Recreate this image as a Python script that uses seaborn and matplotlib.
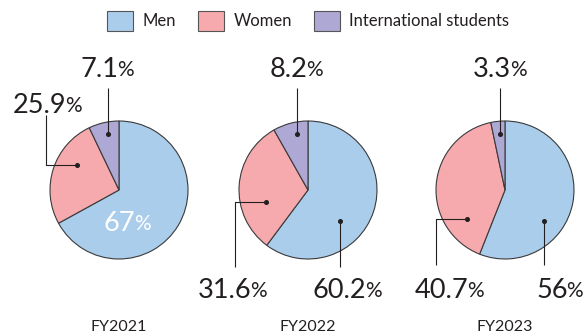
import matplotlib
matplotlib.use("Agg")
import matplotlib.pyplot as plt
from matplotlib.patches import Patch
import seaborn as sns

# data
years = ["FY2021", "FY2022", "FY2023"]
groups = ["Men", "Women", "International students"]
men = [67, 60.2, 56]
women = [25.9, 31.6, 40.7]
intl = [7.1, 8.2, 3.3]

sns.set_theme(style="white")
plt.rcParams["font.family"] = ["Lato", "DejaVu Sans"]

colors = sns.color_palette(["#abcdec", "#f6aaad", "#aea8d4"])
edge = "#3a3a3a"
ink = "#231f20"

W, H = 584, 335
fig = plt.figure(figsize=(W / 100, H / 100), dpi=100)

R = 69          # pie radius in px
cy = 145        # pie centre, px from bottom
centres = [119, 308, 505]
half_w = 95

# callout layout per pie, in radius units: (dot, path corner points, text pos)
layout = [
    [  # FY2021: men, women, intl
        None,
        ((-0.61, 0.36), [(-1.06, 0.36), (-1.06, 1.09)], (-1.03, 1.23)),
        ((-0.16, 0.81), [(-0.16, 1.48)], (-0.16, 1.75)),
    ],
    [
        ((0.46, -0.45), [(0.46, -1.12)], (0.57, -1.45)),
        ((-0.61, -0.17), [(-1.06, -0.17), (-1.06, -1.12)], (-1.09, -1.45)),
        ((-0.16, 0.81), [(-0.16, 1.48)], (-0.16, 1.75)),
    ],
    [
        ((0.57, -0.45), [(0.57, -1.09)], (0.80, -1.45)),
        ((-0.55, -0.42), [(-1.0, -0.42), (-1.0, -1.09)], (-0.80, -1.45)),
        ((-0.07, 0.81), [(-0.07, 1.48)], (-0.07, 1.75)),
    ],
]
inside = [(0.12, -0.48), None, None]


def fmt(v):
    return f"{v:g}"


def pct_label(ax, x, y, value, color):
    num = ax.text(x - 0.12, y, fmt(value), ha="center", va="center",
                  fontsize=19.5, color=color)
    ax.annotate("%", xy=(1, 0), xycoords=num, xytext=(-0.8, 1),
                textcoords="offset points", ha="left", va="bottom",
                fontsize=15, color=color)


for i, year in enumerate(years):
    cx = centres[i]
    ax = fig.add_axes([(cx - half_w) / W, 0, 2 * half_w / W, 1])
    vals = [men[i], women[i], intl[i]]
    ax.pie(vals, colors=colors, startangle=90, counterclock=False, radius=1,
           wedgeprops=dict(edgecolor=edge, linewidth=0.8))
    ax.set_xlim(-half_w / R, half_w / R)
    ax.set_ylim(-cy / R, (H - cy) / R)
    ax.set_aspect("auto")
    ax.axis("off")

    for j, v in enumerate(vals):
        spec = layout[i][j]
        if spec is None:
            continue
        dot, corners, tpos = spec
        xs = [dot[0]] + [c[0] for c in corners]
        ys = [dot[1]] + [c[1] for c in corners]
        ax.plot(xs, ys, color=ink, lw=0.8, solid_capstyle="butt")
        ax.plot(dot[0], dot[1], "o", color=ink, ms=2.6)
        pct_label(ax, tpos[0], tpos[1], v, ink)

    if inside[i] is not None:
        pct_label(ax, inside[i][0], inside[i][1], men[i], "white")

    ax.text(0, -1.99, year, ha="center", va="center", fontsize=11.5, color=ink)

handles = [Patch(facecolor=c, edgecolor="#555555", linewidth=0.8) for c in colors]
fig.legend(handles, groups, loc="center", bbox_to_anchor=(308 / W, 1 - 21 / H),
           ncol=3, frameon=False, fontsize=12, handlelength=1.6,
           handleheight=1.5, handletextpad=0.55, columnspacing=1.3,
           labelcolor=ink)

fig.savefig("out.png", dpi=100)
